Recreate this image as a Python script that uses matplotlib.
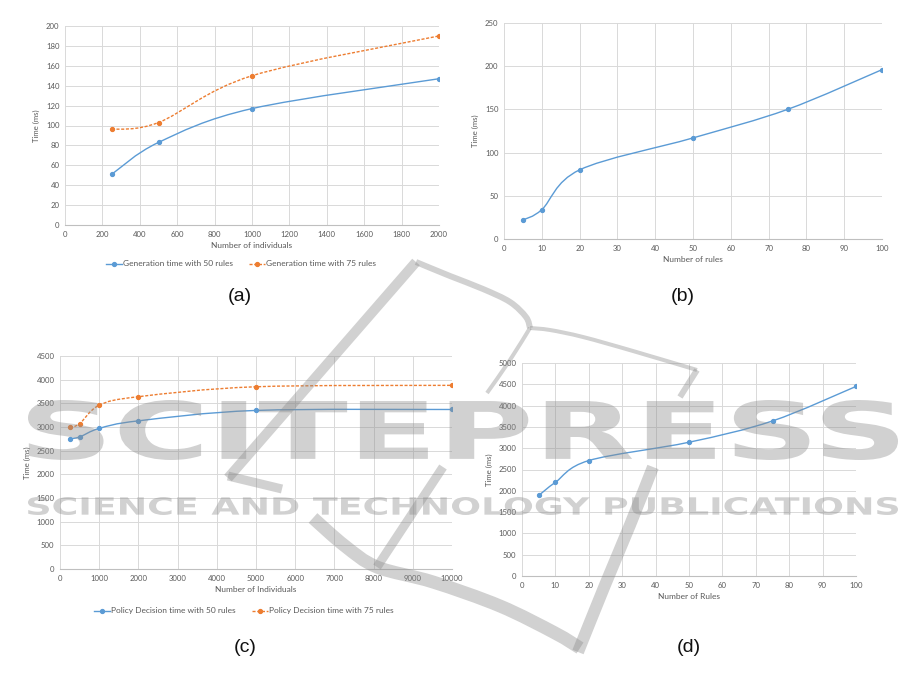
import numpy as np
import matplotlib
matplotlib.use('Agg')
import matplotlib.pyplot as plt
from matplotlib.path import Path
from matplotlib.patches import PathPatch
from matplotlib.textpath import TextPath
from matplotlib.font_manager import FontProperties
from matplotlib.lines import Line2D
import matplotlib.transforms as mtransforms

# ---------------- data ----------------
# (a) generation time vs number of individuals
indiv_a = [250, 500, 1000, 2000]
gen_50 = [51, 83, 117, 147]
gen_75 = [96, 103, 150, 190]

# (b) generation time vs number of rules
rules_b = [5, 10, 20, 50, 75, 100]
gen_rules = [22, 34, 80, 117, 150, 196]

# (c) policy decision time vs number of individuals
indiv_c = [250, 500, 1000, 2000, 5000, 10000]
pol_50 = [2750, 2790, 2970, 3130, 3350, 3370]
pol_75 = [2990, 3070, 3460, 3640, 3850, 3880]

# (d) policy decision time vs number of rules
rules_d = [5, 10, 20, 50, 75, 100]
pol_rules = [1890, 2200, 2710, 3140, 3640, 4450]

BLUE = '#5B9BD5'
ORANGE = '#ED7D31'
GRID = '#D9D9D9'
TXT = '#595959'
FONT = 'Lato'

W, H = 915, 690


def smooth_path(x, y):
    """excel-like smoothed line as bezier path"""
    pts = np.column_stack([x, y]).astype(float)
    n = len(pts)
    verts = [pts[0]]
    codes = [Path.MOVETO]
    for i in range(n - 1):
        p0 = pts[max(i - 1, 0)]
        p1 = pts[i]
        p2 = pts[i + 1]
        p3 = pts[min(i + 2, n - 1)]
        verts += [p1 + (p2 - p0) / 6., p2 - (p3 - p1) / 6., p2]
        codes += [Path.CURVE4] * 3
    return Path(verts, codes)


def add_series(ax, x, y, color, ls='-', label=None):
    ax.add_patch(PathPatch(smooth_path(x, y), fill=False, edgecolor=color,
                           lw=1.0, linestyle=ls, zorder=3))
    ax.plot(x, y, 'o', color=color, ms=2.8, zorder=4)
    return Line2D([], [], color=color, lw=1.0, linestyle=ls, marker='o', ms=2.8, label=label)


def style_axes(ax, xlim, xstep, ylim, ystep, xlabel, ylabel):
    ax.set_xlim(*xlim)
    ax.set_ylim(*ylim)
    ax.set_xticks(np.arange(xlim[0], xlim[1] + xstep / 2, xstep))
    ax.set_yticks(np.arange(ylim[0], ylim[1] + ystep / 2, ystep))
    ax.grid(True, color=GRID, lw=0.7)
    ax.set_axisbelow(True)
    for s in ['top', 'right', 'left']:
        ax.spines[s].set_visible(False)
    ax.spines['bottom'].set_color('#BFBFBF')
    ax.spines['bottom'].set_linewidth(0.8)
    ax.tick_params(length=0, labelsize=5.6, labelcolor=TXT, pad=4)
    for lab in ax.get_xticklabels() + ax.get_yticklabels():
        lab.set_fontfamily(FONT)
    ax.set_xlabel(xlabel, fontsize=6, color=TXT, family=FONT, labelpad=3)
    ax.set_ylabel(ylabel, fontsize=5.6, color=TXT, family=FONT, labelpad=4)


def px_axes(fig, x0, y0, x1, y1):
    return fig.add_axes([x0 / W, 1 - y1 / H, (x1 - x0) / W, (y1 - y0) / H])


fig = plt.figure(figsize=(W / 100, H / 100), dpi=100)

# (a)
ax = px_axes(fig, 65, 26, 439, 225)
h1 = add_series(ax, indiv_a, gen_50, BLUE, '-', 'Generation time with 50 rules')
h2 = add_series(ax, indiv_a, gen_75, ORANGE, (0, (2.2, 1.2)), 'Generation time with 75 rules')
style_axes(ax, (0, 2000), 200, (0, 200), 20, 'Number of individuals', 'Time (ms)')
leg = fig.legend(handles=[h1, h2], loc='center', bbox_to_anchor=(241 / W, 1 - 264 / H),
                 ncol=2, frameon=False, handlelength=1.9, columnspacing=2.0,
                 handletextpad=0.1, prop={'family': FONT, 'size': 6})
for t in leg.get_texts():
    t.set_color(TXT)

# (b)
ax = px_axes(fig, 504, 23, 882, 239)
add_series(ax, rules_b, gen_rules, BLUE)
style_axes(ax, (0, 100), 10, (0, 250), 50, 'Number of rules', 'Time (ms)')

# (c)
ax = px_axes(fig, 60, 356, 452, 569)
h1 = add_series(ax, indiv_c, pol_50, BLUE, '-', 'Policy Decision time with 50 rules')
h2 = add_series(ax, indiv_c, pol_75, ORANGE, (0, (2.2, 1.2)), 'Policy Decision time with 75 rules')
style_axes(ax, (0, 10000), 1000, (0, 4500), 500, 'Number of Individuals', 'Time (ms)')
leg = fig.legend(handles=[h1, h2], loc='center', bbox_to_anchor=(244 / W, 1 - 611 / H),
                 ncol=2, frameon=False, handlelength=1.9, columnspacing=2.0,
                 handletextpad=0.1, prop={'family': FONT, 'size': 6})
for t in leg.get_texts():
    t.set_color(TXT)

# (d)
ax = px_axes(fig, 522, 363, 856, 576)
add_series(ax, rules_d, pol_rules, BLUE)
style_axes(ax, (0, 100), 10, (0, 5000), 500, 'Number of Rules', 'Time (ms)')

# panel labels
for lab, (px, py) in zip(['(a)', '(b)', '(c)', '(d)'],
                         [(240, 297), (683, 297), (245, 648), (689, 648)]):
    fig.text(px / W, 1 - py / H, lab, ha='center', va='center', fontsize=14,
             family='Liberation Sans', color='#111111')

#######################
# watermark
WM_COLOR = '#8c8c8c'
WM_ALPHA = 0.40


def wm_text(s, x0, y0, x1, y1):
    tp = TextPath((0, 0), s, size=1, prop=FontProperties(family='DejaVu Sans', weight='bold'))
    ext = tp.get_extents()
    tr = mtransforms.Affine2D().translate(-ext.x0, -ext.y0).scale(
        (x1 - x0) / ext.width / W, (y1 - y0) / ext.height / H).translate(x0 / W, 1 - y1 / H)
    fig.add_artist(PathPatch(tr.transform_path(tp), transform=fig.transFigure,
                             facecolor=WM_COLOR, edgecolor='none', alpha=WM_ALPHA, zorder=10))


wm_text('SCITEPRESS', 28, 400, 898, 460)
wm_text('SCIENCE AND TECHNOLOGY PUBLICATIONS', 28, 497, 898, 515)

swoosh = [
    ([(416, 262), (228, 478)], 10),
    ([(228, 476), (282, 489)], 9),
    ([(416, 262), (450, 276), (483, 289), (510, 302), (526, 317), (530, 328)], 6),
    ([(530, 328), (550, 330), (583, 337), (633, 351), (697, 370)], 4),
    ([(530, 328), (510, 360), (487, 393)], 4),
    ([(697, 370), (680, 397)], 6),
    ([(313, 518), (345, 546), (377, 567), (433, 582), (500, 606), (555, 633), (580, 648)], 13),
    ([(377, 567), (443, 467)], 9),
    ([(578, 652), (605, 585), (630, 525), (653, 467)], 12),
]
for pts, lw in swoosh:
    xs = [p[0] / W for p in pts]
    ys = [1 - p[1] / H for p in pts]
    fig.add_artist(PathPatch(smooth_path(xs, ys), transform=fig.transFigure, fill=False,
                             edgecolor=WM_COLOR, alpha=WM_ALPHA, lw=lw * 0.72,
                             capstyle='butt', joinstyle='round', zorder=10))

plt.savefig('out.png', dpi=100)
plt.close()
